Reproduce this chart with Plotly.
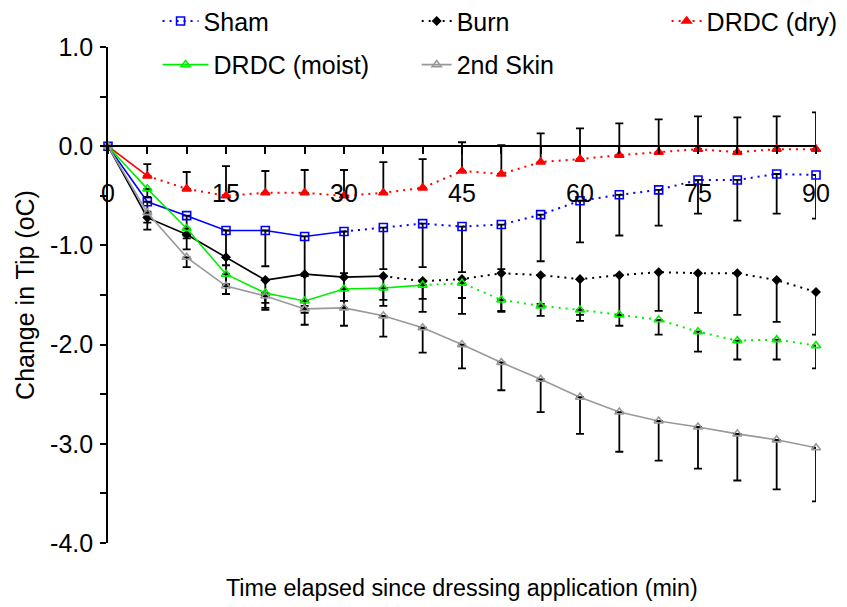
import plotly.graph_objects as go

# ---- data ----
time_min = [0, 5, 10, 15, 20, 25, 30, 35, 40, 45, 50, 55, 60, 65, 70, 75, 80, 85, 90]

sham = [0, -0.56, -0.70, -0.85, -0.85, -0.91, -0.86, -0.82, -0.78, -0.81, -0.79, -0.69, -0.55, -0.49, -0.44, -0.34, -0.34, -0.28, -0.29]
sham_err = [0, 0.10, 0.20, 0.35, 0.36, 0.40, 0.42, 0.42, 0.44, 0.46, 0.45, 0.47, 0.42, 0.41, 0.36, 0.34, 0.41, 0.40, 0.44]

burn = [0, -0.72, -0.89, -1.12, -1.35, -1.29, -1.32, -1.31, -1.36, -1.34, -1.28, -1.30, -1.34, -1.30, -1.27, -1.28, -1.28, -1.35, -1.47]
burn_err = [0, 0.12, 0.15, 0.28, 0.30, 0.32, 0.32, 0.30, 0.31, 0.35, 0.38, 0.29, 0.36, 0.40, 0.39, 0.40, 0.42, 0.42, 0.43]

dry = [0, -0.30, -0.43, -0.50, -0.47, -0.47, -0.50, -0.47, -0.42, -0.25, -0.28, -0.16, -0.13, -0.09, -0.06, -0.03, -0.06, -0.03, -0.03]
dry_err = [0, 0.12, 0.17, 0.30, 0.22, 0.23, 0.26, 0.31, 0.29, 0.29, 0.29, 0.29, 0.31, 0.32, 0.33, 0.33, 0.35, 0.33, 0.37]

moist = [0, -0.43, -0.83, -1.29, -1.48, -1.56, -1.44, -1.43, -1.40, -1.38, -1.55, -1.61, -1.65, -1.70, -1.75, -1.87, -1.96, -1.95, -2.01]
moist_err = [0, 0.08, 0.10, 0.10, 0.10, 0.12, 0.12, 0.12, 0.14, 0.15, 0.12, 0.10, 0.11, 0.11, 0.15, 0.20, 0.19, 0.20, 0.23]

skin2 = [0, -0.67, -1.12, -1.41, -1.51, -1.64, -1.63, -1.71, -1.83, -2.00, -2.18, -2.35, -2.53, -2.68, -2.77, -2.83, -2.90, -2.96, -3.04]
skin2_err = [0, 0.10, 0.10, 0.08, 0.12, 0.16, 0.18, 0.21, 0.25, 0.24, 0.28, 0.33, 0.37, 0.40, 0.40, 0.42, 0.47, 0.50, 0.54]

x_tick_vals = [0, 15, 30, 45, 60, 75, 90]
x_tick_text = ["0", "15", "30", "45", "60", "75", "90"]
y_tick_vals = [1, 0, -1, -2, -3, -4]
y_tick_text = ["1.0", "0.0", "-1.0", "-2.0", "-3.0", "-4.0"]

FONT = "Liberation Sans, Arial, sans-serif"
DOT = "2px,5px"

# name, values, errors, error direction, color, marker symbol, marker size, solid-until index, legend line dash
series = [
    ("Sham", sham, sham_err, "down", "#0000FF", "square-open", 8, 6, DOT),
    ("Burn", burn, burn_err, "down", "#000000", "diamond", 6, 7, DOT),
    ("DRDC (dry)", dry, dry_err, "up", "#FF0000", "triangle-up", 8, 1, DOT),
    ("DRDC (moist)", moist, moist_err, "down", "#00EE00", "triangle-up-open", 8, 8, "solid"),
    ("2nd Skin", skin2, skin2_err, "down", "#999999", "triangle-up-open", 8, 18, "solid"),
]

fig = go.Figure()

for name, vals, errs, direction, color, symbol, msize, solid_to, _ in series:
    fig.add_trace(go.Scatter(
        x=time_min[:solid_to + 1], y=vals[:solid_to + 1], mode="lines",
        line=dict(color=color, width=1.6), showlegend=False, hoverinfo="skip",
        cliponaxis=False))
    if solid_to < len(time_min) - 1:
        fig.add_trace(go.Scatter(
            x=time_min[solid_to:], y=vals[solid_to:], mode="lines",
            line=dict(color=color, width=2, dash=DOT), showlegend=False,
            hoverinfo="skip", cliponaxis=False))
    zeros = [0] * len(errs)
    fig.add_trace(go.Scatter(
        x=time_min, y=vals, mode="markers", name=name, showlegend=False,
        marker=dict(symbol=symbol, size=msize, color=color, line=dict(color=color, width=1.6)),
        error_y=dict(type="data", symmetric=False,
                     array=errs if direction == "up" else zeros,
                     arrayminus=errs if direction == "down" else zeros,
                     color="black", thickness=1.8, width=4),
        cliponaxis=False))

legend_pos = [(0.07, 1.052), (0.436, 1.052), (0.789, 1.052), (0.07, 0.964), (0.436, 0.964)]
legend_widths = [36, 30, 30, 46, 30]
legend_names = ["legend", "legend2", "legend3", "legend4", "legend5"]
for (name, vals, errs, direction, color, symbol, msize, solid_to, ldash), lg in zip(series, legend_names):
    fig.add_trace(go.Scatter(
        x=[None], y=[None], mode="lines+markers", name=name, legend=lg,
        line=dict(color=color, width=1.6 if ldash == "solid" else 2, dash=ldash),
        marker=dict(symbol=symbol, size=msize, color=color, line=dict(color=color, width=1.6))))

layout_legends = {}
for lg, (lx, ly), iw in zip(legend_names, legend_pos, legend_widths):
    layout_legends[lg] = dict(x=lx, y=ly, xanchor="left", yanchor="middle",
                              bgcolor="rgba(0,0,0,0)", borderwidth=0,
                              font=dict(family=FONT, size=25, color="black"),
                              itemwidth=iw, tracegroupgap=0)

# the page body adds an 8px offset, so the canvas is 8px smaller on each side
fig.update_layout(
    width=839, height=599,
    margin=dict(l=100, r=31, t=39, b=64, autoexpand=False),
    plot_bgcolor="white", paper_bgcolor="white",
    font=dict(family=FONT, size=25, color="black"),
    xaxis=dict(range=[0, 90], anchor="free", position=0.8,
               showline=True, linecolor="black", linewidth=1.6,
               ticks="outside", ticklen=7, tickwidth=1.6, tickcolor="black",
               tickvals=x_tick_vals, ticktext=x_tick_text,
               minor=dict(dtick=5, tick0=0, ticks="outside", ticklen=7, tickwidth=1.6,
                          tickcolor="black", showgrid=False),
               ticklabelstandoff=18, automargin=False,
               showgrid=False, zeroline=False),
    yaxis=dict(range=[-4, 1], showline=True, linecolor="black", linewidth=1.6,
               ticks="outside", ticklen=6, tickwidth=1.6, tickcolor="black",
               tickvals=y_tick_vals, ticktext=y_tick_text,
               minor=dict(dtick=0.5, tick0=0, ticks="outside", ticklen=6, tickwidth=1.6,
                          tickcolor="black", showgrid=False),
               ticklabelstandoff=2, automargin=False,
               title=dict(text="Change in Tip (oC)", font=dict(size=25), standoff=8),
               showgrid=False, zeroline=False),
    annotations=[dict(text="Time elapsed since dressing application (min)",
                      xref="paper", yref="paper", x=0.5, y=-0.091,
                      xanchor="center", yanchor="middle", showarrow=False,
                      font=dict(family=FONT, size=23.3, color="black"))],
    **layout_legends,
)

fig.write_html("out.html")
